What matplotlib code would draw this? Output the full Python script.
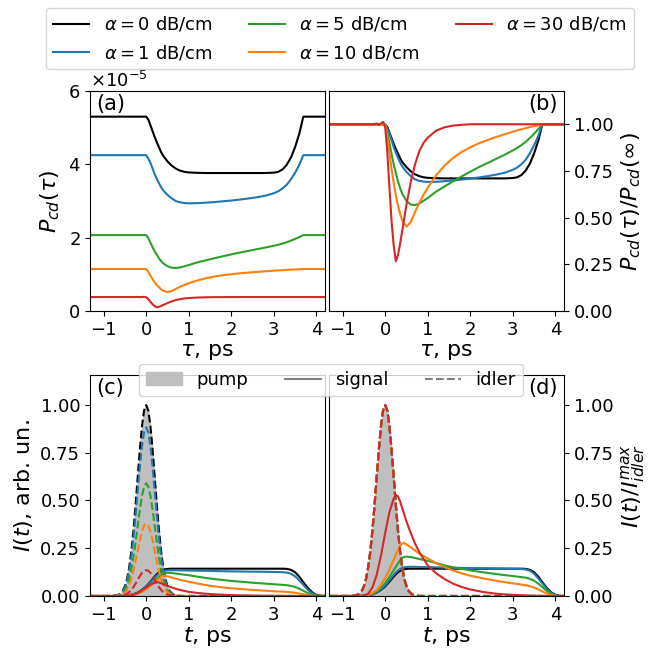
import matplotlib
matplotlib.use('Agg')
import matplotlib.pyplot as plt
from matplotlib.patches import Patch
from matplotlib.lines import Line2D

# ---------------- data ----------------
alphas = [0, 1, 5, 10, 30]
colors = ['black', '#1f77b4', '#2ca02c', '#ff7f0e', '#d62728']

# panels (a)/(b): correlation vs delay tau (ps)
tau = [-1.3, -0.3, -0.2, -0.15, -0.1, -0.05, 0.0, 0.05, 0.1, 0.15, 0.2, 0.25, 0.3, 0.35, 0.4,
       0.5, 0.6, 0.7, 0.8, 0.9, 1.0, 1.2, 1.4, 1.6, 1.8, 2.0, 2.2, 2.4, 2.6, 2.8, 3.0,
       3.1, 3.2, 3.3, 3.4, 3.5, 3.6, 3.69, 3.8, 4.2]
pcd_inf = [5.30e-5, 4.25e-5, 2.07e-5, 1.145e-5, 0.38e-5]

norm_a0 = [1.0, 1.0, 1.0, 1.0, 1.0, 1.0, 1.0, 0.985, 0.955, 0.925, 0.895, 0.868, 0.843, 0.818, 0.798,
           0.77, 0.748, 0.732, 0.722, 0.716, 0.713, 0.711, 0.71, 0.71, 0.71, 0.71, 0.71, 0.71, 0.71, 0.71, 0.712,
           0.716, 0.728, 0.752, 0.79, 0.845, 0.915, 1.0, 1.0, 1.0]
norm_a1 = [1.0, 1.0, 1.0, 1.0, 1.0, 1.0, 1.0, 0.978, 0.95, 0.915, 0.877, 0.848, 0.82, 0.795, 0.774,
           0.745, 0.722, 0.705, 0.697, 0.693, 0.691, 0.692, 0.695, 0.699, 0.704, 0.709, 0.715, 0.722, 0.73, 0.74, 0.756,
           0.768, 0.786, 0.81, 0.845, 0.888, 0.94, 1.0, 1.0, 1.0]
norm_a5 = [1.0, 1.0, 1.0, 1.0, 1.0, 1.0, 1.0, 0.96, 0.9, 0.84, 0.785, 0.74, 0.695, 0.658, 0.628,
           0.59, 0.57, 0.567, 0.575, 0.59, 0.605, 0.64, 0.668, 0.695, 0.721, 0.746, 0.77, 0.792, 0.814, 0.836, 0.86,
           0.873, 0.888, 0.906, 0.927, 0.95, 0.975, 1.0, 1.0, 1.0]
norm_a10 = [1.0, 1.0, 1.0, 1.0, 1.0, 1.0, 1.0, 0.93, 0.845, 0.76, 0.685, 0.62, 0.565, 0.52, 0.485,
            0.452, 0.475, 0.53, 0.578, 0.622, 0.66, 0.728, 0.78, 0.82, 0.852, 0.877, 0.898, 0.915, 0.931, 0.946, 0.96,
            0.967, 0.973, 0.979, 0.985, 0.99, 0.995, 1.0, 1.0, 1.0]
norm_a30 = [1.0, 1.0, 1.004, 0.997, 1.004, 1.013, 0.985, 0.85, 0.66, 0.48, 0.35, 0.266, 0.30, 0.36, 0.43,
            0.57, 0.69, 0.785, 0.855, 0.9, 0.928, 0.966, 0.984, 0.993, 0.997, 1.0, 1.0, 1.0, 1.0, 1.0, 1.0,
            1.0, 1.0, 1.0, 1.0, 1.0, 1.0, 1.0, 1.0, 1.0]
norm_curves = [norm_a0, norm_a1, norm_a5, norm_a10, norm_a30]

# panels (c)/(d): intensities vs time t (ps)
t_pump = [-1.3, -0.9, -0.85, -0.8, -0.75, -0.7, -0.65, -0.6, -0.55, -0.5, -0.45, -0.4, -0.35, -0.3, -0.25,
          -0.2, -0.15, -0.1, -0.05, 0.0, 0.05, 0.1, 0.15, 0.2, 0.25, 0.3, 0.35, 0.4, 0.45, 0.5, 0.55,
          0.6, 0.65, 0.7, 0.75, 0.8, 0.85, 0.9, 4.2]
pump = [0.0, 0.0001, 0.0002, 0.0005, 0.0012, 0.0029, 0.0066, 0.0138, 0.0273, 0.0511, 0.0899, 0.149, 0.233,
        0.343, 0.475, 0.621, 0.765, 0.888, 0.971, 1.0, 0.971, 0.888, 0.765, 0.621, 0.475, 0.343, 0.233,
        0.149, 0.0899, 0.0511, 0.0273, 0.0138, 0.0066, 0.0029, 0.0012, 0.0005, 0.0002, 0.0001, 0.0]
idler_peak = [1.0, 0.883, 0.59, 0.38, 0.136]

t_sig = [-1.3, -0.6, -0.5, -0.4, -0.3, -0.2, -0.1, 0.0, 0.1, 0.2, 0.25, 0.3, 0.35, 0.4, 0.45, 0.5,
         0.6, 0.7, 0.8, 1.0, 1.2, 1.4, 1.6, 1.8, 2.0, 2.3, 2.6, 2.9, 3.2,
         3.3, 3.4, 3.5, 3.6, 3.7, 3.8, 3.9, 4.0, 4.1, 4.2]
# signal normalised to idler maximum (panel d)
sig_a0 = [0, 0, 0.001, 0.004, 0.009, 0.018, 0.032, 0.05, 0.075, 0.102, 0.114, 0.124, 0.132, 0.137, 0.14, 0.142,
          0.143, 0.143, 0.143, 0.143, 0.143, 0.143, 0.143, 0.143, 0.143, 0.143, 0.143, 0.143, 0.143,
          0.142, 0.137, 0.124, 0.1, 0.07, 0.041, 0.019, 0.006, 0.001, 0]
sig_a1 = [0, 0, 0.001, 0.004, 0.01, 0.02, 0.035, 0.055, 0.082, 0.11, 0.122, 0.133, 0.141, 0.147, 0.151, 0.152,
          0.153, 0.153, 0.152, 0.151, 0.15, 0.149, 0.148, 0.147, 0.146, 0.145, 0.144, 0.143, 0.141,
          0.139, 0.132, 0.116, 0.091, 0.063, 0.036, 0.016, 0.005, 0.001, 0]
sig_a5 = [0, 0, 0.001, 0.005, 0.012, 0.024, 0.042, 0.068, 0.1, 0.135, 0.153, 0.17, 0.187, 0.199, 0.205, 0.206,
          0.204, 0.199, 0.194, 0.184, 0.172, 0.16, 0.15, 0.142, 0.134, 0.124, 0.115, 0.107, 0.099,
          0.096, 0.09, 0.08, 0.064, 0.045, 0.026, 0.011, 0.003, 0.0, 0]
sig_a10 = [0, 0, 0.002, 0.006, 0.016, 0.03, 0.058, 0.095, 0.14, 0.19, 0.215, 0.24, 0.262, 0.276, 0.277, 0.27,
           0.255, 0.238, 0.222, 0.196, 0.172, 0.151, 0.133, 0.118, 0.106, 0.092, 0.08, 0.069, 0.06,
           0.056, 0.051, 0.044, 0.034, 0.023, 0.013, 0.005, 0.001, 0, 0]
sig_a30 = [0, 0, 0.003, 0.012, 0.045, 0.11, 0.21, 0.33, 0.44, 0.51, 0.529, 0.522, 0.495, 0.46, 0.425, 0.39,
           0.33, 0.275, 0.23, 0.16, 0.118, 0.088, 0.064, 0.047, 0.034, 0.021, 0.012, 0.007, 0.004,
           0.003, 0.002, 0.002, 0.001, 0, 0, 0, 0, 0, 0]
sig_curves = [sig_a0, sig_a1, sig_a5, sig_a10, sig_a30]

# ---------------- figure ----------------
plt.rcParams['font.size'] = 13
W, H = 660, 648
fig = plt.figure(figsize=(W / 100, H / 100), dpi=100)
axa = fig.add_axes([90 / W, 1 - 311 / H, 235 / W, 220 / H])
axb = fig.add_axes([329 / W, 1 - 311 / H, 235 / W, 220 / H])
axc = fig.add_axes([90 / W, 1 - 596 / H, 235 / W, 221 / H])
axd = fig.add_axes([329 / W, 1 - 596 / H, 235 / W, 221 / H])

lw = 1.5
pump_color = '#bfbfbf'
handles = []
for a, c, lvl, nc in zip(alphas, colors, pcd_inf, norm_curves):
    h, = axa.plot(tau, [lvl * v for v in nc], color=c, lw=lw, label=r'$\alpha = %d$ dB/cm' % a)
    axb.plot(tau, nc, color=c, lw=lw)
    handles.append(h)

axc.fill_between(t_pump, 0, pump, color=pump_color, lw=0.8)
axd.fill_between(t_pump, 0, pump, color=pump_color, lw=0.8)
for c, pk, sc in zip(colors, idler_peak, sig_curves):
    axc.plot(t_sig, [pk * v for v in sc], color=c, lw=lw)
    axc.plot(t_pump, [pk * v for v in pump], color=c, lw=lw, ls='--')
    axd.plot(t_sig, sc, color=c, lw=lw)
    axd.plot(t_pump, pump, color=c, lw=lw, ls='--')

xlim = (-1.32, 4.2)
for ax in (axa, axb, axc, axd):
    ax.set_xlim(*xlim)
    ax.set_xticks([-1, 0, 1, 2, 3, 4])

lab_fs = 16
axa.set_ylim(0, 6e-5)
axa.set_yticks([0, 2e-5, 4e-5, 6e-5])
axa.ticklabel_format(axis='y', style='sci', scilimits=(0, 0), useMathText=True)
axa.set_ylabel(r'$P_{cd}(\tau)$', fontsize=lab_fs)
axa.set_xlabel(r'$\tau$, ps', fontsize=lab_fs, labelpad=2)

axb.set_ylim(0, 1.178)
axb.set_yticks([0, 0.25, 0.5, 0.75, 1.0])
axb.yaxis.tick_right()
axb.yaxis.set_label_position('right')
axb.set_ylabel(r'$P_{cd}(\tau)/P_{cd}(\infty)$', fontsize=lab_fs)
axb.set_xlabel(r'$\tau$, ps', fontsize=lab_fs, labelpad=2)

axc.set_ylim(0, 1.157)
axc.set_yticks([0, 0.25, 0.5, 0.75, 1.0])
axc.set_ylabel(r'$I(t)$, arb. un.', fontsize=lab_fs)
axc.set_xlabel(r'$t$, ps', fontsize=lab_fs, labelpad=1)

axd.set_ylim(0, 1.157)
axd.set_yticks([0, 0.25, 0.5, 0.75, 1.0])
axd.yaxis.tick_right()
axd.yaxis.set_label_position('right')
axd.set_ylabel(r'$I(t)/I_{idler}^{max}$', fontsize=lab_fs)
axd.set_xlabel(r'$t$, ps', fontsize=lab_fs, labelpad=1)

for ax, lab, left in ((axa, '(a)', True), (axb, '(b)', False), (axc, '(c)', True), (axd, '(d)', False)):
    if left:
        ax.text(0.025, 0.985, lab, transform=ax.transAxes, ha='left', va='top', fontsize=15)
    else:
        ax.text(0.975, 0.985, lab, transform=ax.transAxes, ha='right', va='top', fontsize=15)

fig.legend(handles=handles, loc='center', bbox_to_anchor=(340 / W, 1 - 38.5 / H), ncol=3,
           fontsize=13, handlelength=2.0, columnspacing=2.0)

h_pump = Patch(facecolor=pump_color, edgecolor=pump_color, label='pump')
h_sig = Line2D([], [], color='gray', lw=lw, label='signal')
h_idl = Line2D([], [], color='gray', lw=lw, ls='--', label='idler')
fig.legend(handles=[h_pump, h_sig, h_idl], loc='center', bbox_to_anchor=(331 / W, 1 - 380 / H), ncol=3,
           fontsize=13, handlelength=2.0, columnspacing=2.0)

fig.savefig('out.png', dpi=100)
